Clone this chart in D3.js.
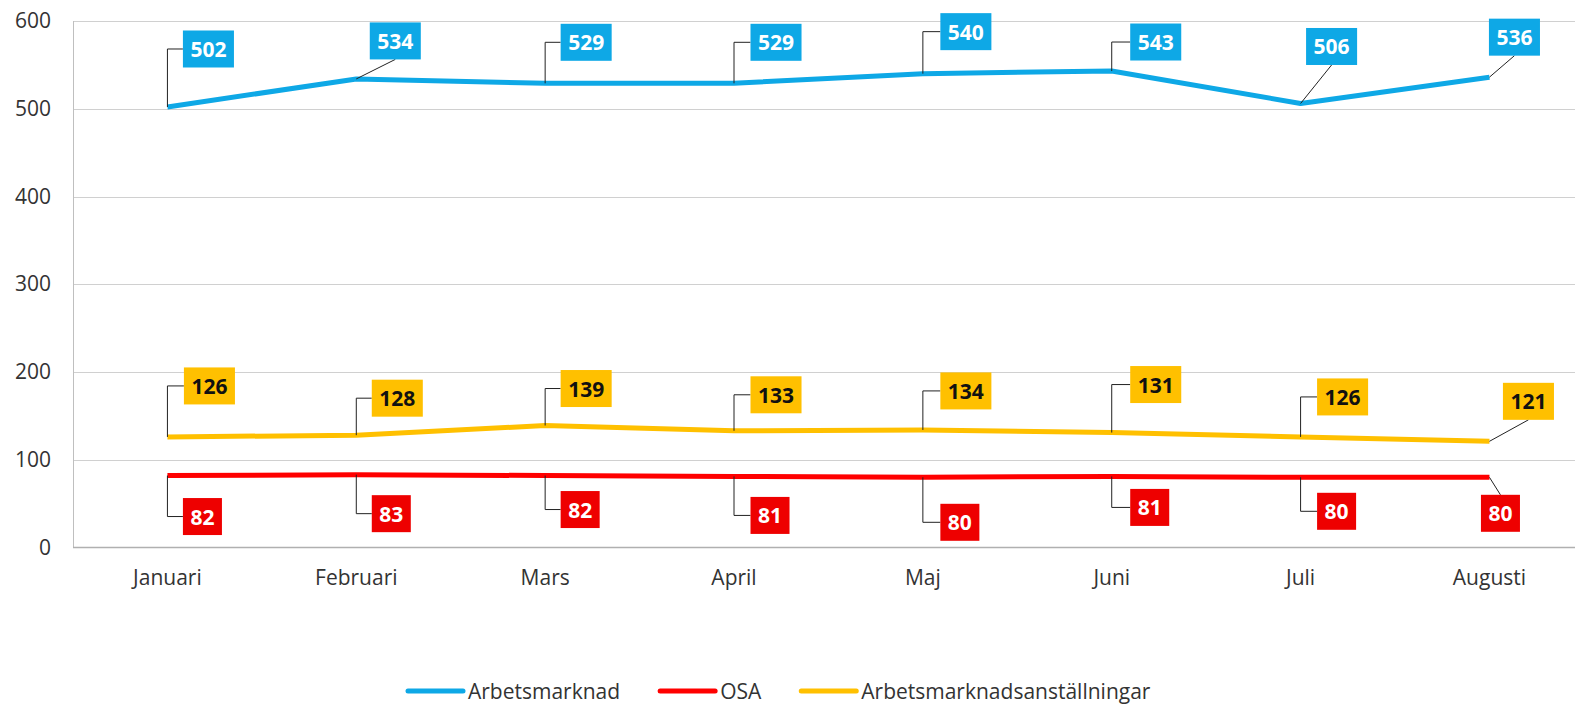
<!DOCTYPE html>
<html>
<head>
<meta charset="utf-8">
<script src="https://cdn.jsdelivr.net/npm/d3@7"></script>
<style>
  body { margin: 0; background: #fff; }
  svg text { font-family: "Open Sans", sans-serif; }
</style>
</head>
<body>
<div id="chart"></div>
<script>
// data
var months = ["Januari", "Februari", "Mars", "April", "Maj", "Juni", "Juli", "Augusti"];
var arbetsmarknad = [502, 534, 529, 529, 540, 543, 506, 536];
var osa = [82, 83, 82, 81, 80, 81, 80, 80];
var anstallningar = [126, 128, 139, 133, 134, 131, 126, 121];
var yTicks = [0, 100, 200, 300, 400, 500, 600];

// label box placement (box centre offset from point, leader style)
var blueOffsets = [[41,-58,"e"],[39,-38,"d"],[41,-41,"e"],[42,-41,"e"],[43,-42,"e"],[44,-29,"e"],[31,-57,"d"],[25,-40,"d"]];
var yellowOffsets = [[42,-51,"e"],[41,-37,"e"],[41,-37,"e"],[42,-36,"e"],[43,-39,"e"],[44,-48,"e"],[42,-40,"e"],[39,-40,"d"]];
var redOffsets = [[35,41,"e"],[35,39,"e"],[35,34,"e"],[36,39,"e"],[37,45,"e"],[38,31,"e"],[36,34,"e"],[11,36,"d"]];

var svgWidth = 1575;
var svgHeight = 704;

var svg = d3.select("#chart")
  .append("svg")
  .attr("width", svgWidth)
  .attr("height", svgHeight);

var plotLeft = 73, plotRight = 1575, plotTop = 21, plotBottom = 547.5;

var x = d3.scaleBand()
  .domain(months)
  .range([plotLeft, plotLeft + 8 * 188.86])
  .padding(0);

var y = d3.scaleLinear()
  .domain([0, 600])
  .range([plotBottom, plotTop]);

function cx(d, i) { return x(months[i]) + x.bandwidth() / 2; }

// gridlines
svg.append("g")
  .selectAll("line")
  .data(yTicks.filter(t => t > 0))
  .enter()
  .append("line")
  .attr("x1", plotLeft)
  .attr("x2", plotRight)
  .attr("y1", d => Math.round(y(d)) + 0.5)
  .attr("y2", d => Math.round(y(d)) + 0.5)
  .attr("stroke", "#d0d0d0")
  .attr("stroke-width", 1);

// left axis line + labels
var leftAxis = d3.axisLeft(y).tickValues(yTicks).tickSize(0).tickPadding(22);
var gy = svg.append("g")
  .attr("transform", `translate(${plotLeft}, 0)`)
  .call(leftAxis);
gy.select(".domain").attr("stroke", "#bfbfbf").attr("d", `M0.5,${plotTop}V${plotBottom}`);
gy.selectAll("text")
  .style("font-family", "'Open Sans', sans-serif")
  .attr("font-size", 21)
  .attr("fill", "#333");

// bottom axis
var bottomAxis = d3.axisBottom(x).tickSize(0).tickPadding(23);
var gx = svg.append("g")
  .attr("transform", `translate(0, ${plotBottom})`)
  .call(bottomAxis);
gx.select(".domain").attr("stroke", "#b0b0b0").attr("stroke-width", 1.5).attr("d", `M${plotLeft},0H${plotRight}`);
gx.selectAll("text")
  .style("font-family", "'Open Sans', sans-serif")
  .attr("font-size", 21)
  .attr("fill", "#333");

var series = [
  { name: "Arbetsmarknad", values: arbetsmarknad, color: "#0EA8E6", box: "#0EA8E6", text: "#fff", offsets: blueOffsets },
  { name: "OSA", values: osa, color: "#FF0000", box: "#EE0000", text: "#fff", offsets: redOffsets },
  { name: "Arbetsmarknadsanställningar", values: anstallningar, color: "#FFC000", box: "#FFC000", text: "#111", offsets: yellowOffsets }
];

var line = d3.line()
  .x((d, i) => cx(d, i))
  .y(d => y(d));

// lines
series.forEach(function(s) {
  svg.append("path")
    .datum(s.values)
    .attr("fill", "none")
    .attr("stroke", s.color)
    .attr("stroke-width", 5)
    .attr("stroke-linejoin", "round")
    .attr("d", line);
});

// data labels with leaders
var boxH = 37;
series.forEach(function(s) {
  var g = svg.append("g");
  s.values.forEach(function(v, i) {
    var px = cx(v, i), py = y(v);
    var off = s.offsets[i];
    var bx = px + off[0], by = py + off[1];
    var t = g.append("text")
      .attr("x", bx)
      .attr("y", by)
      .attr("text-anchor", "middle")
      .attr("dominant-baseline", "central")
      .attr("font-size", 21)
      .attr("font-weight", "bold")
      .attr("fill", s.text)
      .text(v);
    var w = t.node().getComputedTextLength() + 15;
    var left = bx - w / 2;
    g.insert("rect", "text")
      .attr("x", left)
      .attr("y", by - boxH / 2)
      .attr("width", w)
      .attr("height", boxH)
      .attr("fill", s.box);
    var path;
    if (off[2] === "e") {
      path = `M${px},${py}V${by}H${left}`;
    } else {
      var ey = off[1] < 0 ? by + boxH / 2 : by - boxH / 2;
      path = `M${px},${py}L${bx},${ey}`;
    }
    g.insert("path", "rect")
      .attr("d", path)
      .attr("fill", "none")
      .attr("stroke", "#222")
      .attr("stroke-width", 1);
  });
});

// legend
var legend = svg.append("g").attr("transform", "translate(0, 691)");
var lx = 408;
series.forEach(function(s) {
  legend.append("line")
    .attr("x1", lx).attr("x2", lx + 55)
    .attr("y1", 0).attr("y2", 0)
    .attr("stroke", s.color)
    .attr("stroke-width", 5)
    .attr("stroke-linecap", "round");
  var t = legend.append("text")
    .attr("x", lx + 60)
    .attr("y", 0)
    .attr("dominant-baseline", "central")
    .attr("font-size", 21)
    .attr("fill", "#333")
    .text(s.name);
  lx += 60 + t.node().getComputedTextLength() + 40;
});
</script>
</body>
</html>
